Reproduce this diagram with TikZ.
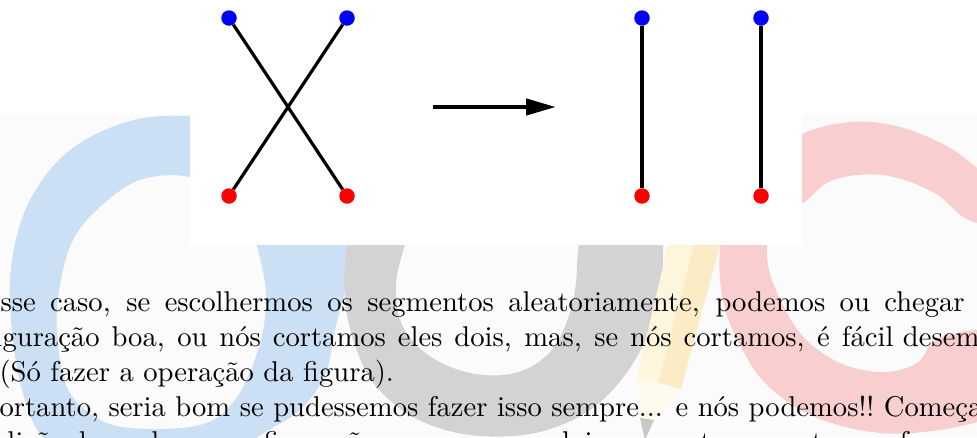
\documentclass[tikz,border=0pt]{standalone}
\usetikzlibrary{arrows.meta}
\definecolor{pagebg}{RGB}{251,251,251}
\definecolor{wmblue}{RGB}{204,224,245}
\definecolor{wmgray}{RGB}{211,211,211}
\definecolor{wmred}{RGB}{249,206,206}
\definecolor{wmyellowA}{RGB}{254,246,220}
\definecolor{wmyellowB}{RGB}{252,236,198}
\definecolor{wmyellowC}{RGB}{254,250,238}
\definecolor{wmtip}{RGB}{200,200,200}
\tikzset{
  bdot/.style={circle,fill=blue,minimum size=15.5pt,inner sep=0pt},
  rdot/.style={circle,fill=red,minimum size=15.5pt,inner sep=0pt},
  seg/.style={line width=3.2pt,black},
  bigarrow/.style={line width=4.4pt,-{Triangle[length=30pt,width=16pt]}},
  txt/.style={inner sep=0pt,scale=2.86,anchor=base west,font=\normalsize},
}
\begin{document}
\begin{tikzpicture}[x=1pt,y=-1pt]
\useasboundingbox (0,0) rectangle (977,437);
\clip (0,0) rectangle (977,437);
\fill[white] (0,0) rectangle (977,437);
\fill[pagebg] (0,114) rectangle (977,437);
% watermark: blue ring
\fill[wmblue,even odd rule]
  plot[smooth cycle,tension=0.6] coordinates {(190,116) (250,125) (310,160) (345,220) (346,280) (335,330) (325,375) (300,410) (265,432) (230,452) (150,462) (90,452) (45,440) (22,390) (11,320) (12,260) (30,200) (70,150) (130,121)}
  plot[smooth cycle,tension=0.6] coordinates {(140,180) (190,177) (240,200) (258,250) (266,300) (258,350) (235,400) (200,425) (130,428) (92,415) (66,385) (57,330) (60,285) (73,240) (100,207)};
% watermark: gray ring
\fill[wmgray,even odd rule]
  plot[smooth cycle,tension=0.6] coordinates {(352,200) (346,250) (345,300) (355,345) (375,385) (415,418) (470,435) (535,433) (590,410) (630,368) (655,315) (663,260) (655,200) (600,150) (500,130) (400,150)}
  plot[smooth cycle,tension=0.6] coordinates {(405,245) (396,285) (402,325) (428,355) (470,373) (515,373) (550,352) (570,312) (577,265) (570,220) (490,190) (420,210)};
% watermark: pencil
\fill[wmyellowA] (668,245) -- (694,245) -- (658,383) -- (637,377) -- cycle;
\fill[wmyellowB] (694,245) -- (720,245) -- (681,389) -- (658,383) -- cycle;
\fill[wmyellowC] (637,377) -- (681,389) -- (654,420) -- (640,418) -- cycle;
\fill[wmtip] (640,418) -- (654,420) -- (645,440) -- cycle;
% watermark: red ring
\fill[wmred]
  plot[smooth,tension=0.6] coordinates {(985,175) (950,148) (900,127) (850,122) (800,135) (760,165) (730,210) (720,250) (722,295) (735,335) (765,383) (815,417) (880,433) (940,430) (985,420)}
  -- plot[smooth,tension=0.6] coordinates {(985,330) (960,332) (933,342) (917,363) (883,372) (840,363) (800,333) (773,283) (767,247) (775,215) (803,203) (833,180) (883,175) (933,192) (963,217) (985,225)}
  -- cycle;
% figure box
\fill[white] (190,0) rectangle (802,245);
% left configuration
\node[bdot] (b1) at (229,18) {};
\node[bdot] (b2) at (347,18) {};
\node[rdot] (r1) at (229,196) {};
\node[rdot] (r2) at (347,196) {};
\draw[seg] (b1) -- (r2);
\draw[seg] (b2) -- (r1);
% arrow
\coordinate (arS) at (433,107);
\coordinate (arE) at (556,107);
\draw[bigarrow] (arS) -- (arE);
% right configuration
\node[bdot] (b3) at (642,18) {};
\node[bdot] (b4) at (761,18) {};
\node[rdot] (r3) at (642,196) {};
\node[rdot] (r4) at (761,196) {};
\draw[seg] (b3) -- (r3);
\draw[seg] (b4) -- (r4);
% text
\node[txt] (t1) at (0,311.7) {\makebox[337.1pt][s]{\llap{Ne}sse caso, se escolhermos os segmentos aleatoriamente, podemos ou chegar}};
\node[txt] (t2) at (2,346.7) {\makebox[311.5pt][s]{\llap{confi}guração boa, ou nós cortamos eles dois, mas, se nós cortamos, é fácil}\rlap{\ desembaraçar.}};
\node[txt] (t3) at (-1,381.7) {(Só fazer a operação da figura).};
\node[txt] (t4) at (-1,416.7) {\makebox[305.9pt][s]{\llap{P}ortanto, seria bom se pudessemos fazer isso sempre... e nós podemos!!}\rlap{\ Começamos}};
\node[txt] (t5) at (-1,451.7) {\makebox[341pt][s]{dição de qualquer configuração, e sempre que dois segmentos se cortarem, fazemos}};
\end{tikzpicture}
\end{document}
